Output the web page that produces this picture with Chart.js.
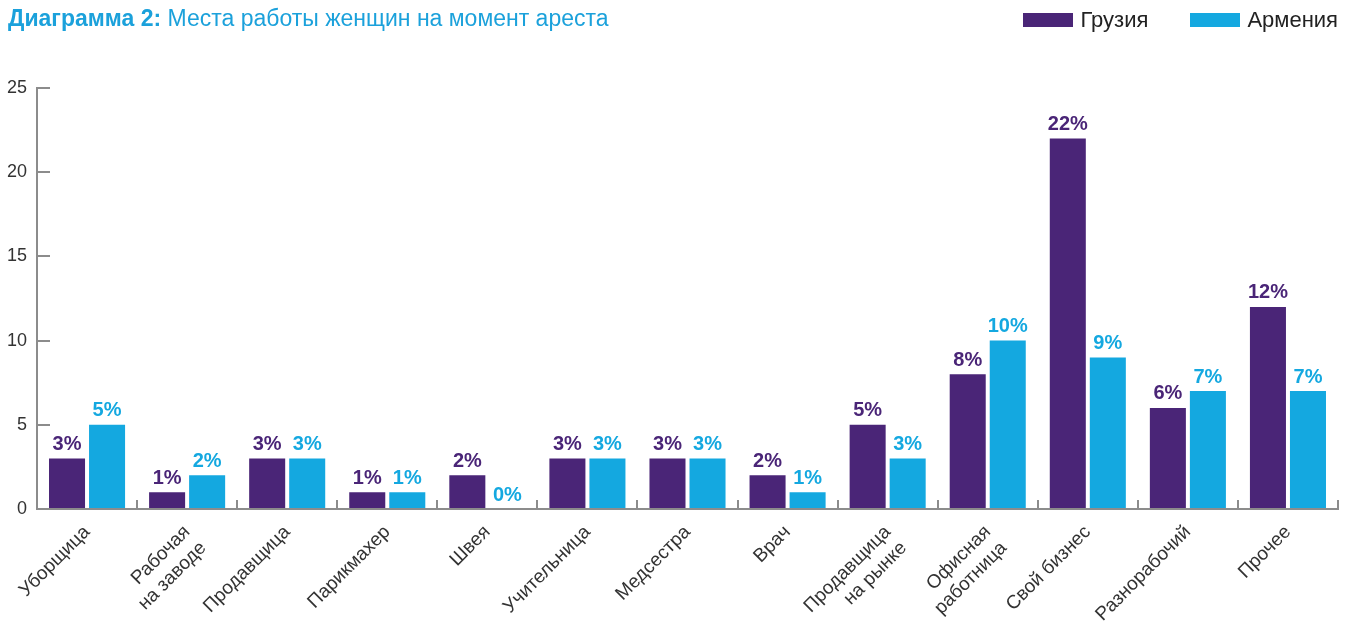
<!DOCTYPE html>
<html lang="ru">
<head>
<meta charset="utf-8">
<script src="https://cdn.jsdelivr.net/npm/chart.js@4"></script>
<style>
    html, body { margin: 0; padding: 0; background: #fff; }
    body { width: 1353px; height: 632px; position: relative; overflow: hidden; font-family: "Liberation Sans", Arial, sans-serif; }
    #wrap { position: absolute; left: 0; top: 0; width: 1353px; height: 632px; }
    .title { position: absolute; left: 8px; top: 5px; font-size: 23px; color: #1ba1db; white-space: nowrap; }
    .title b { font-weight: bold; }
    .legend { position: absolute; right: 15px; top: 7px; font-size: 22px; color: #222; display: flex; align-items: center; }
    .legend span.item { display: flex; align-items: center; margin-left: 42px; }
    .legend i { display: inline-block; width: 50px; height: 14px; margin-right: 7px; }
</style>
</head>
<body>
<div id="wrap"><canvas id="chart" width="1353" height="632"></canvas></div>
<div class="title"><b>Диаграмма 2:</b> Места работы женщин на момент ареста</div>
<div class="legend">
    <span class="item"><i style="background:#4a2577"></i>Грузия</span>
    <span class="item"><i style="background:#14a8e0"></i>Армения</span>
</div>
<script>
const categories = [
    'Уборщица',
    ['Рабочая', 'на заводе'],
    'Продавщица',
    'Парикмахер',
    'Швея',
    'Учительница',
    'Медсестра',
    'Врач',
    ['Продавщица', 'на рынке'],
    ['Офисная', 'работница'],
    'Свой бизнес',
    'Разнорабочий',
    'Прочее'
];
const georgia = [3, 1, 3, 1, 2, 3, 3, 2, 5, 8, 22, 6, 12];
const armenia = [5, 2, 3, 1, 0, 3, 3, 1, 3, 10, 9, 7, 7];
const yTicks = [0, 5, 10, 15, 20, 25];

const PURPLE = '#4a2577';
const BLUE = '#14a8e0';
const AXIS = '#8c8c8c';

// value labels above each bar, same colour as the bar
const valueLabels = {
    id: 'valueLabels',
    afterDatasetsDraw(chart) {
        const ctx = chart.ctx;
        ctx.save();
        ctx.font = 'bold 20px "Liberation Sans", Arial, sans-serif';
        ctx.textAlign = 'center';
        ctx.textBaseline = 'bottom';
        chart.data.datasets.forEach((ds, i) => {
            const meta = chart.getDatasetMeta(i);
            ctx.fillStyle = ds.backgroundColor;
            meta.data.forEach((bar, j) => {
                ctx.fillText(ds.data[j] + '%', bar.x, bar.y - 4);
            });
        });
        ctx.restore();
    }
};

new Chart(document.getElementById('chart'), {
    type: 'bar',
    data: {
        labels: categories,
        datasets: [
            { label: 'Грузия', data: georgia, backgroundColor: PURPLE, categoryPercentage: 0.8, barPercentage: 0.9 },
            { label: 'Армения', data: armenia, backgroundColor: BLUE, categoryPercentage: 0.8, barPercentage: 0.9 }
        ]
    },
    options: {
        responsive: false,
        animation: false,
        layout: { padding: { top: 88, left: 7, right: 15, bottom: 0 } },
        plugins: {
            legend: { display: false },
            tooltip: { enabled: false }
        },
        scales: {
            x: {
                afterFit: scale => { scale.height = 123; },
                grid: { drawOnChartArea: false, color: AXIS, lineWidth: 2, tickLength: -9 },
                border: { color: AXIS, width: 2 },
                ticks: {
                    color: '#333',
                    font: { family: '"Liberation Sans", Arial, sans-serif', size: 19 },
                    minRotation: 45,
                    maxRotation: 45,
                    padding: 21
                }
            },
            y: {
                min: 0,
                max: 25,
                afterBuildTicks: scale => { scale.ticks = yTicks.map(v => ({ value: v })); },
                afterFit: scale => { scale.width = 30; },
                grid: { drawOnChartArea: false, color: AXIS, lineWidth: 2, tickLength: -13 },
                border: { color: AXIS, width: 2 },
                ticks: {
                    color: '#333',
                    font: { family: '"Liberation Sans", Arial, sans-serif', size: 18 },
                    padding: 23
                }
            }
        }
    },
    plugins: [valueLabels]
});
</script>
</body>
</html>
